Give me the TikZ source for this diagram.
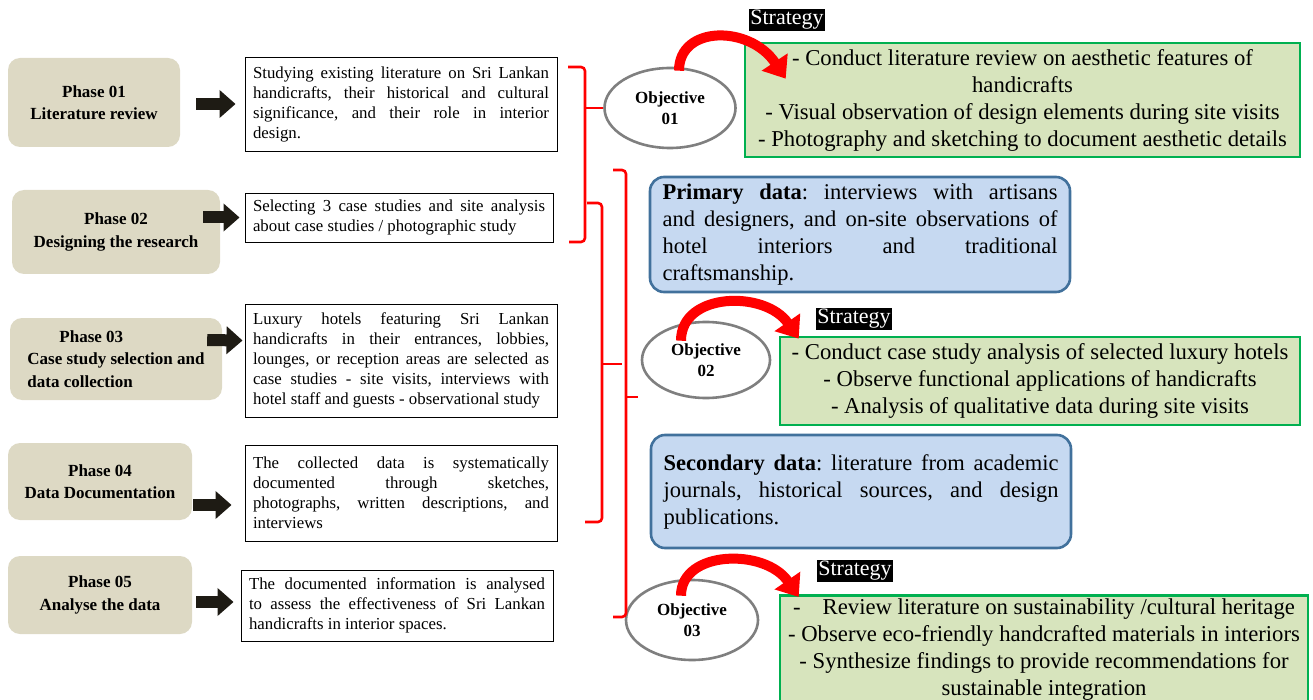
\documentclass[tikz,border=0pt]{standalone}
\usepackage{fontspec}
\setmainfont{Liberation Serif}
\usepackage{xcolor}
\usepackage{tikz}
\usetikzlibrary{arrows.meta,calc,shapes.geometric}
\frenchspacing
\definecolor{tan}{HTML}{DDD9C4}
\definecolor{arrowdark}{HTML}{1E1B14}
\definecolor{gfill}{HTML}{D7E4BD}
\definecolor{gline}{HTML}{00B050}
\definecolor{bfill}{HTML}{C6D9F1}
\definecolor{bline}{HTML}{41719C}
\definecolor{ellgray}{HTML}{7F7F7F}
\definecolor{brred}{HTML}{FF0000}
\tikzset{
  phasebox/.style={rounded corners=12pt, fill=tan, align=center, inner sep=0pt, font=\fontsize{17}{22.5}\selectfont\bfseries},
  txtbox/.style={draw=black, line width=0.9pt, fill=white, text width=296pt, inner xsep=8pt, align=justify, font=\fontsize{16.8}{20}\selectfont},
  objell/.style={ellipse, draw=ellgray, line width=2.6pt, fill=white, align=center, inner sep=0pt, font=\fontsize{17}{21}\selectfont\bfseries},
  datbox/.style={draw=bline, line width=2.6pt, fill=bfill, rounded corners=14pt, text width=395pt, inner xsep=12.5pt, align=justify, font=\fontsize{22.5}{27}\selectfont},
  stratbox/.style={draw=gline, line width=2.6pt, fill=gfill, align=center, inner ysep=3pt, font=\fontsize{22.7}{27}\selectfont},
  stratlbl/.style={fill=black, text=white, inner sep=1.5pt, font=\fontsize{22}{23}\selectfont},
  blk/.style={line width=12pt, draw=arrowdark, -{Triangle[length=16pt,width=27pt]}},
  redarr/.style={line width=10pt, draw=brred, -{Triangle[length=20pt,width=30pt]}},
  brace/.style={draw=brred, line width=2.6pt, rounded corners=4pt}
}
\begin{document}
\begin{tikzpicture}[x=1pt,y=-1pt]
  \useasboundingbox (0,0) rectangle (1313,700);

  % Phases
  \node[phasebox, minimum width=172pt, minimum height=89pt] (p1) at (94,102.5) {Phase 01\\ Literature review};
  \node[phasebox, minimum width=208pt, minimum height=84pt] (p2) at (116,232) {Phase 02\\ Designing the research};
  \node[phasebox, minimum width=212pt, minimum height=82pt, align=left] (p3) at (116,359) {\hspace*{32pt}Phase 03\\ Case study selection and\\ data collection};
  \node[phasebox, minimum width=184pt, minimum height=77pt] (p4) at (100,481.5) {Phase 04\\ Data Documentation};
  \node[phasebox, minimum width=184pt, minimum height=78pt] (p5) at (100,595) {Phase 05\\ Analyse the data};

  \node[txtbox, minimum height=94pt] (t1) at (401,104) {Studying existing literature on Sri Lankan\linebreak handicrafts, their historical and cultural\linebreak significance, and their role in interior\linebreak design.};
  \node[txtbox, minimum height=49pt, text width=292pt] (t2) at (399,217.5) {Selecting 3 case studies and site analysis\linebreak about case studies / photographic study};
  \node[txtbox, minimum height=113pt] (t3) at (401,360.5) {Luxury hotels featuring Sri Lankan\linebreak handicrafts in their entrances, lobbies,\linebreak lounges, or reception areas are selected as\linebreak case studies - site visits, interviews with\linebreak hotel staff and guests - observational study};
  \node[txtbox, minimum height=96pt] (t4) at (401,493) {The collected data is systematically\linebreak documented through sketches,\linebreak photographs, written descriptions, and\linebreak interviews};
  \node[txtbox, minimum height=71pt] (t5) at (397,605.5) {The documented information is analysed\linebreak to assess the effectiveness of Sri Lankan\linebreak handicrafts in interior spaces.};

  \draw[blk] ($(p1.east |- t1.west)+(16,0)$) -- ($(t1.west)+(-9,0)$);
  \draw[blk] ($(p2.east |- t2.west)+(-17,0)$) -- ($(t2.west)+(-5,0)$);
  \draw[blk] ($(p3.east)+(-15,-19)$) -- ($(t3.west)+(-2,-20)$);
  \draw[blk] ($(p4.east)+(1,23.5)$) -- ($(t4.west)+(-13,12)$);
  \draw[blk] ($(p5.east)+(4,7)$) -- ($(t5.west)+(-7,-3.5)$);

  % Objectives
  \node[objell, minimum width=131pt, minimum height=80pt] (o1) at (670,108) {Objective\\ 01};
  \node[objell, minimum width=128pt, minimum height=76pt] (o2) at (706,360) {Objective\\ 02};
  \node[objell, minimum width=132pt, minimum height=80pt] (o3) at (692,620) {Objective\\ 03};

  % brackets
  \draw[brace] (568,67) -- (585,67) -- (585,242) -- (569,242);
  \draw[brace] (585,108) -- (o1.west);
  \draw[brace] (587,203) -- (602,203) -- (602,522) -- (585,522);
  \draw[brace] (602,364) -- (622,364);
  \draw[brace] (613,170) -- (626,170) -- (626,617) -- (613,617);
  \draw[brace] (626,397) -- (638,397);

  % Data
  \node[datbox, minimum height=115pt] (b1) at (860,234.5) {\textbf{Primary data}: interviews with artisans\linebreak and designers, and on-site observations of\linebreak hotel interiors and traditional\linebreak craftsmanship.};
  \node[datbox, minimum height=113pt] (b2) at (861,491.5) {\textbf{Secondary data}: literature from academic\linebreak journals, historical sources, and design\linebreak publications.};

  % Strategies
  \node[stratbox, minimum width=555pt, minimum height=114pt] (g1) at (1022.5,100) {- Conduct literature review on aesthetic features of\\ handicrafts\\ - Visual observation of design elements during site visits\\ - Photography and sketching to document aesthetic details};
  \node[stratbox, minimum width=520pt, minimum height=88pt] (g2) at (1040,381) {- Conduct case study analysis of selected luxury hotels\\ - Observe functional applications of handicrafts\\ - Analysis of qualitative data during site visits};
  \node[stratbox, minimum width=528pt, anchor=north] (g3) at (1044,594) {-\hspace{22pt}Review literature on sustainability /cultural heritage\\ - Observe eco-friendly handcrafted materials in interiors\\ - Synthesize findings to provide recommendations for\\ sustainable integration};

  \node[stratlbl] (s1) at (787,20) {Strategy};
  \node[stratlbl] (s2) at (854,319) {Strategy};
  \node[stratlbl] (s3) at (855,571) {Strategy};

  \draw[redarr] ($(o1.north)+(9,4)$) .. controls (679,25) and (750,25) .. ($(g1.north west)+(42,37)$);
  \draw[redarr] ($(o2.north)+(-25,20)$) .. controls (681,292) and (765,290) .. ($(g2.north west)+(20,3)$);
  \draw[redarr] ($(o3.north)+(-11,17)$) .. controls (681,550) and (765,548) .. ($(g3.north west)+(20,3)$);
\end{tikzpicture}
\end{document}
